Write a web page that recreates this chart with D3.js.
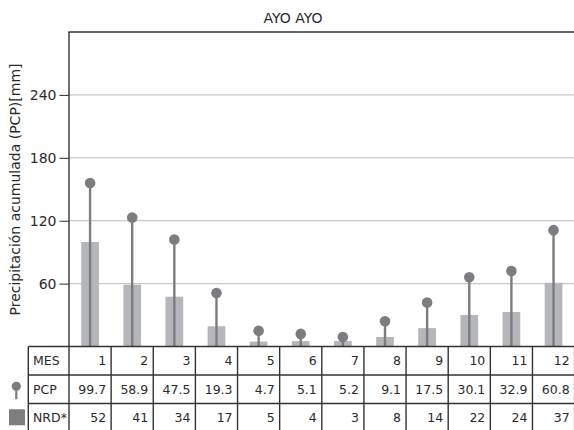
<!DOCTYPE html>
<html><head><meta charset="utf-8">
<script src="https://cdn.jsdelivr.net/npm/d3@7"></script>
<style>body{margin:0;background:#fff}svg{display:block}svg text{font-family:"DejaVu Sans",sans-serif}</style>
</head><body><svg id="c" width="574" height="430"></svg>
<script>
const months = [1,2,3,4,5,6,7,8,9,10,11,12];
const pcp = [99.7,58.9,47.5,19.3,4.7,5.1,5.2,9.1,17.5,30.1,32.9,60.8];
const nrd = [52,41,34,17,5,4,3,8,14,22,24,37];
const pcpLabels = ["99.7","58.9","47.5","19.3","4.7","5.1","5.2","9.1","17.5","30.1","32.9","60.8"];
const yTicks = [60,120,180,240];
const rowLabels = ["MES","PCP","NRD*"];

const svg = d3.select("#c");
const L = 69, R = 574.6, T = 32, B = 346.5;
const x = d3.scaleBand().domain(months).range([L, R]);
const y = d3.scaleLinear().domain([0,300]).range([B, T]);
const yN = d3.scaleLinear().domain([0,100]).range([B, T]);
const txt = "#2a2a2a";
const barC = "#b5b6b9", stemC = "#7c7d81";

svg.append("g").selectAll("line").data(yTicks).join("line")
  .attr("x1", L).attr("x2", R).attr("y1", d=>y(d)).attr("y2", d=>y(d))
  .attr("stroke", "#c8c8c8").attr("stroke-width", 1.3);

const bw = x.bandwidth()*0.42;
svg.append("g").selectAll("rect").data(months).join("rect")
  .attr("x", (d)=>x(d)+x.bandwidth()/2-bw/2)
  .attr("width", bw)
  .attr("y", (d,i)=>y(pcp[i]))
  .attr("height", (d,i)=>B-y(pcp[i]))
  .attr("fill", barC);

svg.append("g").selectAll("line").data(months).join("line")
  .attr("x1", d=>x(d)+x.bandwidth()/2).attr("x2", d=>x(d)+x.bandwidth()/2)
  .attr("y1", B).attr("y2", (d,i)=>yN(nrd[i]))
  .attr("stroke", stemC).attr("stroke-width", 2.4);
svg.append("g").selectAll("circle").data(months).join("circle")
  .attr("cx", d=>x(d)+x.bandwidth()/2).attr("cy", (d,i)=>yN(nrd[i]))
  .attr("r", 5.3).attr("fill", stemC);

const ax = d3.axisLeft(y).tickValues(yTicks).tickSize(9.5).tickPadding(3);
const g = svg.append("g").attr("transform", `translate(${L},0)`).call(ax);
g.attr("font-family", null).attr("font-size", null);
g.select(".domain").remove();
g.selectAll(".tick line").attr("stroke", txt).attr("stroke-width", 1);
g.selectAll(".tick text").attr("fill", txt).style("font-size", "14px");
svg.append("line").attr("x1", L).attr("x2", L).attr("y1", T).attr("y2", B).attr("stroke", "#333").attr("stroke-width", 1.4);
svg.append("line").attr("x1", L-0.7).attr("x2", R).attr("y1", T).attr("y2", T).attr("stroke", "#333").attr("stroke-width", 1.4);

svg.append("text").attr("x", 293).attr("y", 23).attr("text-anchor", "middle")
  .attr("fill", txt).style("font-size", "14px").text("AYO AYO");
svg.append("text").attr("transform", "translate(20,189.5) rotate(-90)").attr("text-anchor", "middle")
  .attr("fill", txt).style("font-size", "14px").text("Precipitación acumulada (PCP)[mm]");

const rowY = d3.scaleBand().domain(rowLabels).range([B, 432]);
const TL = 28.3;
const tg = svg.append("g");
const cells = [months.map(String), pcpLabels, nrd.map(String)];
rowLabels.forEach((r, ri) => {
  const yy = rowY(r) + rowY.bandwidth()/2 + 4.5;
  tg.append("text").attr("x", TL + 4.7).attr("y", yy).attr("fill", txt).style("font-size", "12.5px").text(r);
  tg.selectAll(null).data(months).join("text")
    .attr("x", d=>x(d)+x.bandwidth()-5).attr("y", yy).attr("text-anchor", "end")
    .attr("fill", txt).style("font-size", "12.5px").text((d,i)=>cells[ri][i]);
});
const hl = rowLabels.map(r=>rowY(r)).concat([432]);
tg.selectAll(null).data(hl).join("line")
  .attr("x1", TL).attr("x2", R).attr("y1", d=>d).attr("y2", d=>d)
  .attr("stroke", "#333").attr("stroke-width", 1.4);
const vl = [TL].concat(months.map(d=>x(d))).concat([R]);
tg.selectAll(null).data(vl).join("line")
  .attr("x1", d=>d).attr("x2", d=>d).attr("y1", B).attr("y2", 432)
  .attr("stroke", "#333").attr("stroke-width", 1.4);

const ly1 = rowY("PCP") + rowY.bandwidth()/2;
svg.append("line").attr("x1", 16.3).attr("x2", 16.3).attr("y1", ly1-4).attr("y2", ly1+10)
  .attr("stroke", stemC).attr("stroke-width", 2.2);
svg.append("circle").attr("cx", 16.3).attr("cy", ly1-3).attr("r", 4.6).attr("fill", stemC);
const ly2 = rowY("NRD*") + rowY.bandwidth()/2;
svg.append("rect").attr("x", 9).attr("y", ly2-8.5).attr("width", 16).attr("height", 16).attr("fill", stemC);
</script></body></html>
